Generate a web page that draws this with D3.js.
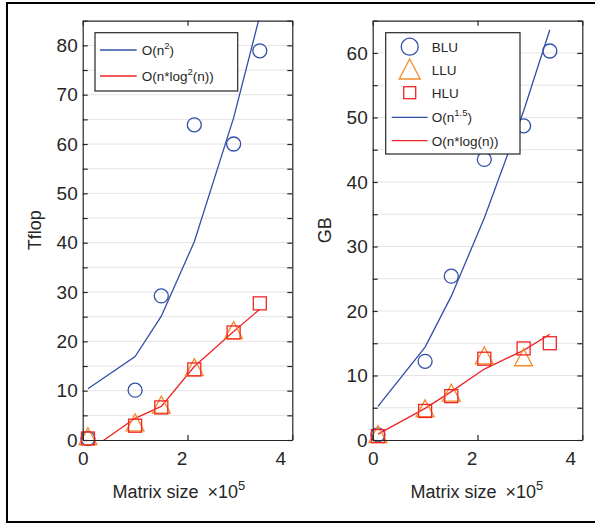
<!DOCTYPE html>
<html>
<head>
<meta charset="utf-8">
<script src="https://d3js.org/d3.v7.min.js"></script>
<style>
  body { margin: 0; background: #fff; }
  text { font-family: "Liberation Sans", Arial, Helvetica, sans-serif; fill: #262626; }
</style>
</head>
<body>
<script>
// matrix sizes (x 10^5)
const matrixSize = [0.1, 1.0, 1.5, 2.13, 2.88, 3.38];

// left panel: Tflop
const tflopBLU = [0.3, 10.1, 29.2, 63.9, 60.0, 78.9];
const tflopLLU = [0.6, 3.4, 7.0, 14.6, 22.1];
const tflopHLU = [0.3, 2.9, 6.6, 14.3, 21.8, 27.7];
const tflopFitN2 = [10.4, 16.9, 25.1, 40.2, 65.3, 86.0];
const tflopFitNlog2 = [-2.3, 4.4, 6.8, 14.9, 22.0, 26.5];

// right panel: GB
const gbBLU = [0.8, 12.2, 25.4, 43.5, 48.7, 60.3];
const gbLLU = [0.8, 4.8, 7.2, 13.0, 12.7];
const gbHLU = [0.6, 4.5, 6.8, 12.6, 14.2, 15.0];
const gbFitN15 = [5.2, 14.4, 22.3, 34.4, 51.0, 63.6];
const gbFitNlog = [0.9, 4.9, 7.5, 11.0, 13.9, 16.4];

const xTicks = [0, 2, 4];

const blue = "#3050a8", orange = "#f58a2a", red = "#f02424", axisCol = "#262626";

const W = 595, H = 525;
const svg = d3.select("body").append("svg").attr("width", W).attr("height", H);

// outer frame (right side falls outside the picture)
svg.append("rect").attr("x", 7).attr("y", 3).attr("width", 620).attr("height", 519)
  .attr("fill", "none").attr("stroke", "#000").attr("stroke-width", 2);

function zip(ys) { return ys.map((v, i) => [matrixSize[i], v]); }

function marker(g, type, cx, cy, s) {
  if (type === "circle") {
    g.append("circle").attr("cx", cx).attr("cy", cy).attr("r", s)
      .attr("fill", "none").attr("stroke", blue).attr("stroke-width", 1.3);
  } else if (type === "tri") {
    const h = s * 1.0;
    g.append("path")
      .attr("d", `M${cx},${cy - h * 0.55}L${cx + s / 2 * 1.05},${cy + h * 0.45}L${cx - s / 2 * 1.05},${cy + h * 0.45}Z`)
      .attr("fill", "none").attr("stroke", orange).attr("stroke-width", 1.3);
  } else {
    g.append("rect").attr("x", cx - s / 2).attr("y", cy - s / 2).attr("width", s).attr("height", s)
      .attr("fill", "none").attr("stroke", red).attr("stroke-width", 1.3);
  }
}

function panel(cfg) {
  const x = d3.scaleLinear().domain([0, 4]).range([cfg.left, cfg.left + 209.6]);
  const y = d3.scaleLinear().domain([0, cfg.ymax]).range([440, 20.7]);
  const g = svg.append("g");
  const minor = d3.range(0, cfg.ymax + 0.1, 5);

  // horizontal grid
  g.append("g").selectAll("line").data(minor.filter(d => d > 0 && d < cfg.ymax)).join("line")
    .attr("x1", x(0)).attr("x2", x(4)).attr("y1", d => y(d)).attr("y2", d => y(d))
    .attr("stroke", "#e4e4e4").attr("stroke-width", 1);

  // data
  const clipId = "clip" + cfg.left;
  g.append("clipPath").attr("id", clipId).append("rect")
    .attr("x", x(0)).attr("y", y(cfg.ymax)).attr("width", x(4) - x(0)).attr("height", y(0) - y(cfg.ymax));
  const dg = g.append("g").attr("clip-path", `url(#${clipId})`);
  const mg = g.append("g");
  zip(cfg.blu).forEach(d => marker(mg, "circle", x(d[0]), y(d[1]), 7));
  zip(cfg.llu).forEach(d => marker(mg, "tri", x(d[0]), y(d[1]), 17));
  zip(cfg.hlu).forEach(d => marker(mg, "sq", x(d[0]), y(d[1]), 13));
  const line = d3.line().x(d => x(d[0])).y(d => y(d[1]));
  dg.append("path").datum(zip(cfg.fit1)).attr("d", line).attr("fill", "none").attr("stroke", blue).attr("stroke-width", 1.3);
  dg.append("path").datum(zip(cfg.fit2)).attr("d", line).attr("fill", "none").attr("stroke", red).attr("stroke-width", 1.3);

  // axes (ticks point inward)
  const style = a => {
    a.attr("font-family", null);
    a.selectAll("path,line").attr("stroke", axisCol).attr("stroke-width", 1.2);
    a.selectAll("text").attr("font-size", 19).attr("fill", axisCol);
  };
  g.append("g").attr("transform", `translate(${x(0)},0)`)
    .call(d3.axisLeft(y).tickValues(minor).tickFormat(d => d % 10 ? "" : d).tickSize(-5).tickSizeOuter(0).tickPadding(5))
    .call(style);
  g.append("g").attr("transform", `translate(${x(4)},0)`)
    .call(d3.axisRight(y).tickValues(minor).tickFormat("").tickSize(-5).tickSizeOuter(0)).call(style);
  g.append("g").attr("transform", `translate(0,${y(cfg.ymax)})`)
    .call(d3.axisTop(x).tickValues(xTicks).tickFormat("").tickSize(-5).tickSizeOuter(0)).call(style);
  g.append("g").attr("transform", `translate(0,${y(0)})`)
    .call(d3.axisBottom(x).tickValues(xTicks).tickFormat(d3.format("d")).tickSize(-5).tickSizeOuter(0).tickPadding(12))
    .call(style)
    .call(a => a.selectAll("text").attr("dx", d => -3 * d));

  // axis labels
  const cx = (x(0) + x(4)) / 2;
  g.append("text").attr("x", cx + cfg.xlabShift).attr("y", 498).attr("text-anchor", "end")
    .attr("font-size", 18).text("Matrix size");
  const ex = g.append("text").attr("x", cx + cfg.xlabShift + 9).attr("y", 498).attr("font-size", 18);
  ex.append("tspan").text("\u00d710");
  ex.append("tspan").attr("dy", -8).attr("font-size", 13).text("5");
  g.append("text").attr("transform", `translate(${x(0) - 42},${(y(0) + y(cfg.ymax)) / 2}) rotate(-90)`)
    .attr("text-anchor", "middle").attr("font-size", 18).text(cfg.ylabel);

  // legend
  const L = cfg.legend;
  const lg = g.append("g");
  lg.append("rect").attr("x", L.x).attr("y", L.y).attr("width", L.w).attr("height", L.h)
    .attr("fill", "#fff").attr("stroke", axisCol).attr("stroke-width", 1.2);
  L.items.forEach((it, i) => {
    const ry = L.rows[i];
    if (it.kind === "line") {
      lg.append("line").attr("x1", L.x + L.lx0).attr("x2", L.x + L.lx1).attr("y1", ry).attr("y2", ry)
        .attr("stroke", it.color).attr("stroke-width", 1.3);
    } else {
      marker(lg, it.kind, L.x + (L.lx0 + L.lx1) / 2, ry, it.size);
    }
    const t = lg.append("text").attr("x", L.x + L.tx).attr("y", ry + 5).attr("font-size", 13.5);
    it.parts.forEach(p => {
      if (p.sup) t.append("tspan").attr("dy", -6).attr("font-size", 9.5).text(p.sup);
      else t.append("tspan").attr("dy", p.down ? 6 : null).text(p.t);
    });
  });
}

panel({
  left: 82.7, ymax: 85, ylabel: "Tflop", xlabShift: 11,
  blu: tflopBLU, llu: tflopLLU, hlu: tflopHLU, fit1: tflopFitN2, fit2: tflopFitNlog2,
  legend: {
    x: 95, y: 32.7, w: 142.7, h: 58.3, lx0: 5, lx1: 41.7, tx: 46.7, rows: [50, 76],
    items: [
      { kind: "line", color: blue, parts: [{ t: "O(n" }, { sup: "2" }, { t: ")", down: true }] },
      { kind: "line", color: red, parts: [{ t: "O(n*log" }, { sup: "2" }, { t: "(n))", down: true }] }
    ]
  }
});

panel({
  left: 372.7, ymax: 65, ylabel: "GB", xlabShift: 19,
  blu: gbBLU, llu: gbLLU, hlu: gbHLU, fit1: gbFitN15, fit2: gbFitNlog,
  legend: {
    x: 385.7, y: 32.7, w: 134.3, h: 121.3, lx0: 6, lx1: 42, tx: 46, rows: [46.7, 70, 92.7, 117.3, 140.7],
    items: [
      { kind: "circle", size: 8.5, parts: [{ t: "BLU" }] },
      { kind: "tri", size: 20, parts: [{ t: "LLU" }] },
      { kind: "sq", size: 12, parts: [{ t: "HLU" }] },
      { kind: "line", color: blue, parts: [{ t: "O(n" }, { sup: "1.5" }, { t: ")", down: true }] },
      { kind: "line", color: red, parts: [{ t: "O(n*log(n))" }] }
    ]
  }
});
</script>
</body>
</html>
